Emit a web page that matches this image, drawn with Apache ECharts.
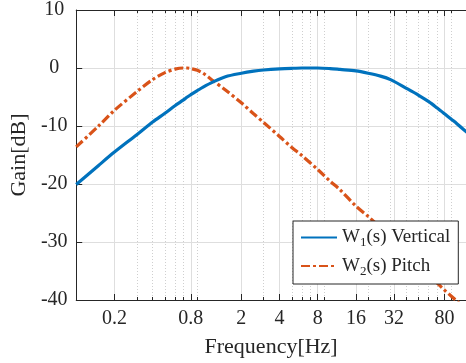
<!DOCTYPE html>
<html>
<head>
<meta charset="utf-8">
<script src="https://cdn.jsdelivr.net/npm/echarts@6/dist/echarts.min.js"></script>
<style>
html,body{margin:0;padding:0;background:#fff;}
#chart{width:466px;height:363px;}
</style>
</head>
<body>
<div id="chart"></div>
<script>
// ---- data ----
var freqs  = [0.1, 0.15, 0.2, 0.3, 0.4, 0.5, 0.6, 0.7, 0.75, 0.8, 0.9, 1.0, 1.2, 1.5, 2, 2.5, 3, 4, 5, 6, 8, 10, 12, 16, 20, 25, 30, 40, 50, 60, 70, 80, 90, 100, 120];
var w1Gain = [-20.1, -16.8, -14.5, -11.5, -9.3, -7.8, -6.5, -5.5, -5.0, -4.6, -3.9, -3.3, -2.4, -1.5, -0.9, -0.55, -0.35, -0.15, -0.05, 0, 0, -0.1, -0.25, -0.5, -0.9, -1.4, -2.0, -3.5, -4.7, -5.8, -6.9, -7.9, -8.8, -9.6, -11.1];
var w2Gain = [-13.6, -10.0, -7.3, -4.1, -2.0, -0.8, -0.2, 0, 0, -0.1, -0.4, -0.9, -2.2, -3.8, -6.0, -7.9, -9.4, -11.8, -13.7, -15.1, -17.5, -19.5, -21.0, -23.8, -25.6, -27.5, -29.2, -31.9, -34.0, -35.7, -37.1, -38.3, -39.3, -40.2, -41.7];
var seriesNames = ['W1(s) Vertical', 'W2(s) Pitch'];
var majorTicks = [0.2, 0.8, 2, 4, 8, 16, 32, 80];
var minorTicks = [0.2, 0.3, 0.4, 0.5, 0.6, 0.7, 0.8, 0.9, 2, 3, 4, 5, 6, 7, 8, 9, 20, 30, 40, 50, 60, 70, 80, 90];
var minorGrid  = [0.3, 0.4, 0.5, 0.6, 0.7, 0.9, 3, 5, 6, 7, 9, 20, 30, 40, 50, 60, 70, 90];
var yTicks = [-40, -30, -20, -10, 0, 10];
var xName = 'Frequency[Hz]';
var yName = 'Gain[dB]';

function pairs(xs, ys) { return xs.map(function (x, i) { return [x, ys[i]]; }); }

var FONT = 'Liberation Serif';
var INK = '#262626';
var X_MIN = 0.1, X_MAX = 118;

function fmt(v) { return String(+Number(v).toPrecision(6)); }

var baseX = { type: 'log', logBase: 10, min: X_MIN, max: X_MAX, gridIndex: 0 };
function xa(extra) { return Object.assign({}, baseX, extra); }

var option = {
  animation: false,
  backgroundColor: '#ffffff',
  grid: { left: 76, right: 0, top: 10, bottom: 63, containLabel: false },
  xAxis: [
    xa({
      position: 'bottom',
      name: xName, nameLocation: 'middle', nameGap: 36,
      nameTextStyle: { fontFamily: FONT, fontSize: 22, color: INK },
      axisLine: { show: true, onZero: false, lineStyle: { color: INK, width: 1 } },
      axisTick: { show: true, inside: true, length: 6, customValues: majorTicks, lineStyle: { color: INK } },
      axisLabel: { show: true, customValues: majorTicks, formatter: fmt, margin: 9, fontFamily: FONT, fontSize: 20, color: INK },
      splitLine: { show: true, lineStyle: { color: '#dedede', width: 1, type: 'solid' } },
      minorTick: { show: false }, minorSplitLine: { show: false }
    }),
    xa({
      position: 'bottom',
      axisLine: { show: false, onZero: false },
      axisTick: { show: true, inside: true, length: 3, customValues: minorTicks, lineStyle: { color: INK } },
      axisLabel: { show: false },
      splitLine: { show: false }
    }),
    xa({
      position: 'bottom',
      axisLine: { show: false, onZero: false },
      axisTick: { show: false, customValues: minorGrid },
      axisLabel: { show: false },
      splitLine: { show: true, lineStyle: { color: '#cfcfcf', width: 1, type: [1, 2] } }
    }),
    xa({
      position: 'top',
      axisLine: { show: true, onZero: false, lineStyle: { color: INK, width: 1 } },
      axisTick: { show: true, inside: true, length: 6, customValues: majorTicks, lineStyle: { color: INK } },
      axisLabel: { show: false },
      splitLine: { show: false }
    }),
    xa({
      position: 'top',
      axisLine: { show: false, onZero: false },
      axisTick: { show: true, inside: true, length: 3, customValues: minorTicks, lineStyle: { color: INK } },
      axisLabel: { show: false },
      splitLine: { show: false }
    })
  ],
  yAxis: [{
    type: 'value', min: yTicks[0], max: yTicks[yTicks.length - 1], interval: 10,
    name: yName, nameLocation: 'middle', nameGap: 38, nameRotate: 90,
    nameTextStyle: { fontFamily: FONT, fontSize: 22, color: INK },
    axisLine: { show: true, onZero: false, lineStyle: { color: INK, width: 1 } },
    axisTick: { show: true, inside: true, length: 6, lineStyle: { color: INK } },
    axisLabel: { margin: 22, align: 'center', fontFamily: FONT, fontSize: 20, color: INK },
    splitLine: { show: true, lineStyle: { color: '#dedede', width: 1 } }
  }],
  legend: {
    left: 293, top: 221,
    orient: 'vertical',
    data: seriesNames,
    backgroundColor: '#ffffff',
    borderColor: INK, borderWidth: 1, borderRadius: 0,
    padding: [7, 8, 6, 7],
    itemGap: 7, itemWidth: 36, itemHeight: 14, itemTextGap: 3,
    selectedMode: false,
    itemStyle: { color: 'rgba(0,0,0,0)', borderWidth: 0, borderColor: 'rgba(0,0,0,0)', opacity: 0 },
    formatter: function (name) {
      var m = name.match(/^W(\d)(.*)$/);
      return '{n|W}{s|' + m[1] + '}{n|' + m[2] + '}';
    },
    textStyle: {
      fontFamily: FONT, fontSize: 19, color: INK,
      rich: {
        n: { fontFamily: FONT, fontSize: 19, color: INK, lineHeight: 24 },
        s: { fontFamily: FONT, fontSize: 13, color: INK, lineHeight: 12, verticalAlign: 'bottom' }
      }
    }
  },
  series: [
    {
      name: seriesNames[0], type: 'line', xAxisIndex: 0, yAxisIndex: 0,
      data: pairs(freqs, w1Gain), showSymbol: false, symbol: 'none', smooth: 0.3, clip: true,
      lineStyle: { color: '#0072BD', width: 3.2, type: 'solid' },
      itemStyle: { color: '#0072BD' }, z: 3
    },
    {
      name: seriesNames[1], type: 'line', xAxisIndex: 0, yAxisIndex: 0,
      data: pairs(freqs, w2Gain), showSymbol: false, symbol: 'none', smooth: 0.3, clip: true,
      lineStyle: { color: '#D95319', width: 3.2, type: [9, 3, 3, 3] },
      itemStyle: { color: '#D95319' }, z: 2
    }
  ]
};

var chart = echarts.init(document.getElementById('chart'), null, { renderer: 'canvas' });
chart.setOption(option);
</script>
</body>
</html>
